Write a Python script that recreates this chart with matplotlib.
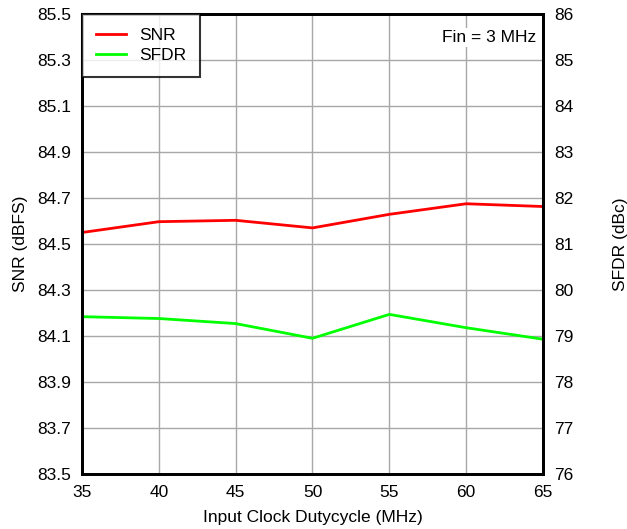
import matplotlib
matplotlib.use("Agg")
import matplotlib.pyplot as plt

plt.rcParams['font.family'] = ['Liberation Sans', 'DejaVu Sans']

duty = [35, 40, 45, 50, 55, 60, 65]
snr = [84.550, 84.597, 84.603, 84.570, 84.629, 84.675, 84.663]
sfdr = [79.42, 79.38, 79.27, 78.95, 79.47, 79.18, 78.93]

snr_ticks = [83.5, 83.7, 83.9, 84.1, 84.3, 84.5, 84.7, 84.9, 85.1, 85.3, 85.5]
sfdr_ticks = [76, 77, 78, 79, 80, 81, 82, 83, 84, 85, 86]
x_ticks = [35, 40, 45, 50, 55, 60, 65]

fs = 12.5

fig = plt.figure(figsize=(6.27, 5.29), dpi=100)
ax = fig.add_axes([0.1308, 0.104, 0.7352, 0.8695])
ax2 = ax.twinx()

ax.set_xlim(35, 65)
ax.set_ylim(83.5, 85.5)
ax2.set_ylim(76, 86)
ax.set_xticks(x_ticks)
ax.set_yticks(snr_ticks)
ax.set_yticklabels([f"{v:.1f}" for v in snr_ticks])
ax2.set_yticks(sfdr_ticks)

ax.grid(True, color='#a8a8a8', linewidth=1.0)
ax.set_axisbelow(True)

l1, = ax.plot(duty, snr, color='#ff0000', linewidth=2.0, label='SNR')
l2, = ax2.plot(duty, sfdr, color='#00ff00', linewidth=2.0, label='SFDR')

for a in (ax, ax2):
    a.tick_params(length=0, labelsize=fs, pad=8)
    for s in a.spines.values():
        s.set_linewidth(2.0)
        s.set_color('black')
ax.tick_params(axis='x', pad=8)

# axis titles centred at fixed spots around the plot frame
ax.set_xlabel('Input Clock Dutycycle (MHz)', fontsize=fs, va='center')
ax.xaxis.set_label_coords(0.5, -0.094)
ax.set_ylabel('SNR (dBFS)', fontsize=fs, va='center', ha='center')
ax.yaxis.set_label_coords(-0.133, 0.5)
ax2.set_ylabel('SFDR (dBc)', fontsize=fs, rotation=90, va='center', ha='center')
ax2.yaxis.set_label_coords(1.169, 0.5)

leg = ax2.legend(handles=[l1, l2], loc='upper left', fontsize=fs,
                 frameon=True, fancybox=False, borderaxespad=0,
                 handlelength=1.75, borderpad=0.8, labelspacing=0.3,
                 handletextpad=0.75)
leg.get_frame().set_edgecolor('black')
leg.get_frame().set_linewidth(1.5)

ax2.text(0.985, 0.965, 'Fin = 3 MHz', transform=ax.transAxes, ha='right',
         va='top', fontsize=fs,
         bbox=dict(facecolor='white', edgecolor='none', pad=1.5))

fig.savefig('out.png', dpi=100)
